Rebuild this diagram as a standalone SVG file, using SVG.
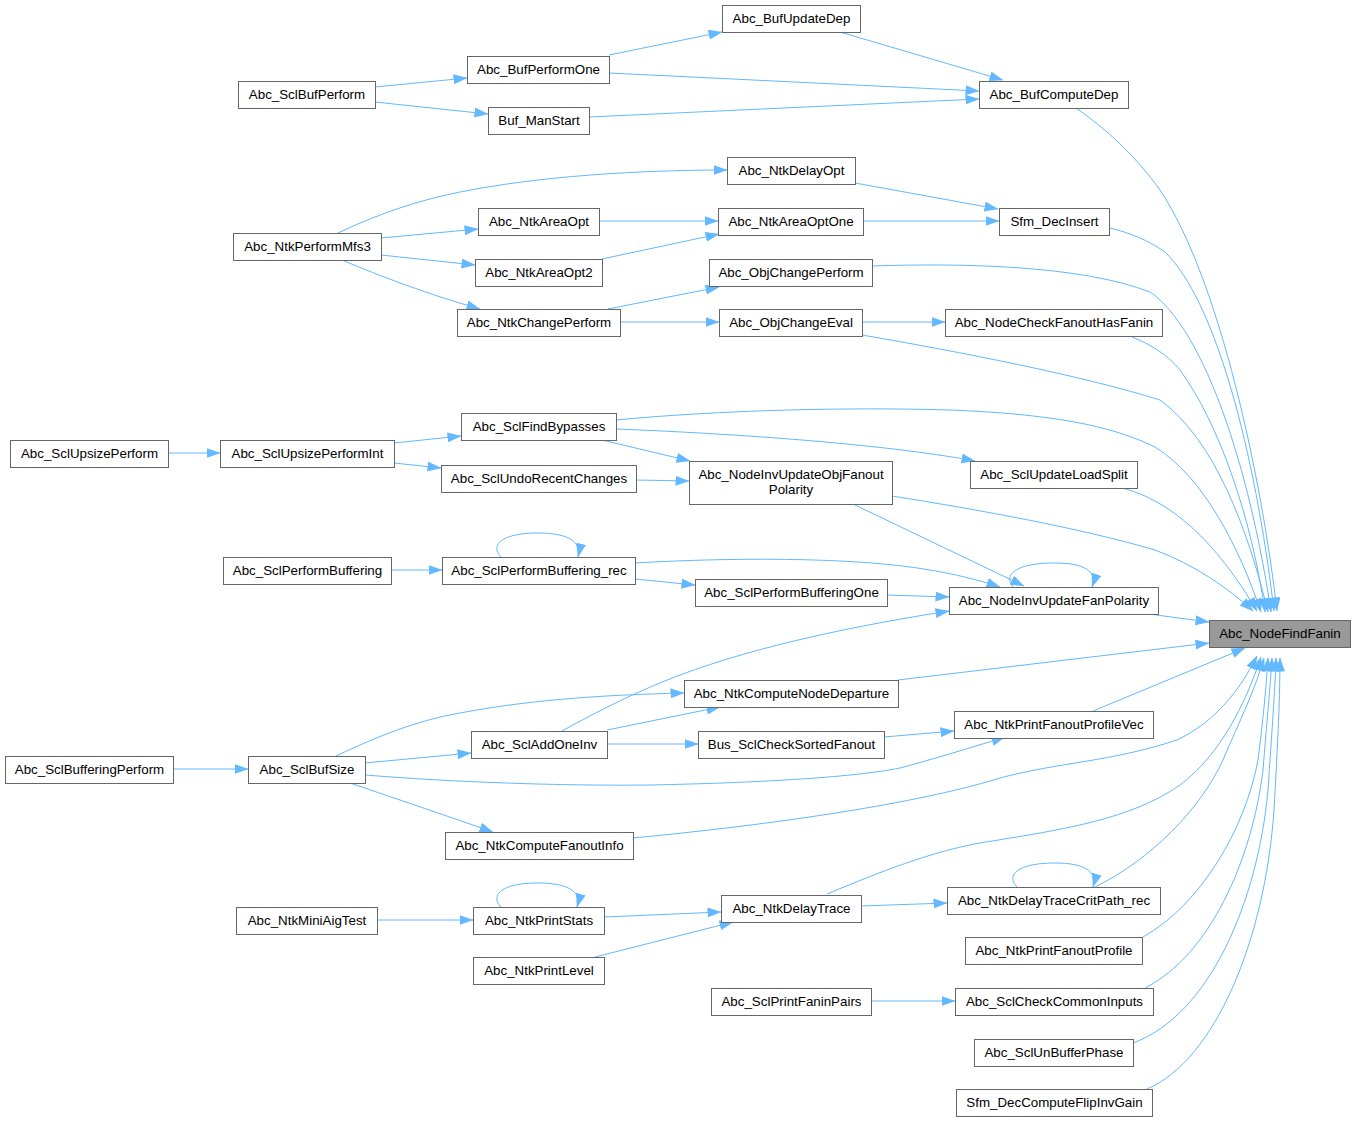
<svg xmlns="http://www.w3.org/2000/svg" width="1355" height="1121" viewBox="0 0 1355 1121">
<style>
.n rect{fill:#ffffff;stroke:#666666;stroke-width:1}
.n text{font-family:"Liberation Sans",Arial,Helvetica,sans-serif;font-size:13.33px;fill:#000000;text-anchor:middle}
#n_target rect{fill:#999999}
.e path{fill:none;stroke:#63b8ff;stroke-width:1;marker-end:url(#ah)}
</style>
<defs>
<marker id="ah" markerUnits="userSpaceOnUse" markerWidth="14" markerHeight="10" refX="13.5" refY="5" orient="auto">
<path d="M0,0 L14,5 L0,10 Z" fill="#63b8ff"/>
</marker>
</defs>
<rect x="0" y="0" width="1355" height="1121" fill="#ffffff"/>
<g id="edges" class="e">
<path d="M840,32 L1003,80"/>
<path d="M609,55 L722,32"/>
<path d="M609,73 L979,91"/>
<path d="M375,87 L467,78"/>
<path d="M375,102 L488,114"/>
<path d="M589,117 L979,99"/>
<path d="M1076,108 C1105,128 1135,155 1160,190 C1220,280 1262,480 1277,611"/>
<path d="M338,233 C380,213 420,200 460,192 C540,176 640,170 727,170"/>
<path d="M381,238 L478,229"/>
<path d="M381,255 L475,265"/>
<path d="M342,260 C380,276 430,295 480,309"/>
<path d="M855,183 L998,209"/>
<path d="M599,221 L718,221"/>
<path d="M602,259 L719,234"/>
<path d="M863,221 L999,221"/>
<path d="M1110,228 C1130,233 1148,240 1165,252 C1215,300 1255,450 1274,611"/>
<path d="M620,322 L719,322"/>
<path d="M608,309 L719,287"/>
<path d="M872,266 C960,263 1080,265 1150,292 C1205,330 1250,470 1271,612"/>
<path d="M862,322 L945,322"/>
<path d="M862,335 C960,352 1080,375 1160,400 C1215,440 1248,530 1268,612"/>
<path d="M1132,337 C1150,344 1168,355 1180,370 C1220,425 1252,520 1265,612"/>
<path d="M168,453 L220,453"/>
<path d="M394,443 L461,436"/>
<path d="M394,463 L441,468"/>
<path d="M616,420 C720,410 850,407 950,410 C1050,414 1110,425 1155,447 C1205,478 1240,550 1261,612"/>
<path d="M616,429 C720,433 880,443 975,461"/>
<path d="M602,440 L690,461"/>
<path d="M636,480 L689,481"/>
<path d="M1122,488 C1170,500 1215,540 1257,611"/>
<path d="M892,496 C980,510 1080,528 1155,550 C1195,565 1228,588 1253,611"/>
<path d="M853,504 L1024,586"/>
<path d="M391,570 L442,570"/>
<path d="M501,557 C490,546 500,533 538,533 C565,533 582,540 578,557"/>
<path d="M635,563 C720,558 850,556 930,570 C960,575 985,582 1000,587"/>
<path d="M635,579 L695,585"/>
<path d="M887,595 L949,597"/>
<path d="M1013,587 C1003,575 1015,563 1055,563 C1082,563 1098,570 1092,587"/>
<path d="M1149,614 L1209,622"/>
<path d="M562,731 C600,710 640,690 680,675 C760,645 860,625 949,611"/>
<path d="M336,756 C370,740 400,727 440,717 C520,700 600,695 684,693"/>
<path d="M365,763 L471,753"/>
<path d="M365,775 C450,782 560,786 650,785 C750,783 850,778 900,768 C930,760 970,748 1005,737"/>
<path d="M350,783 C400,800 450,817 493,832"/>
<path d="M173,769 L248,769"/>
<path d="M898,680 L1209,643"/>
<path d="M607,730 L720,707"/>
<path d="M607,744 L698,744"/>
<path d="M884,737 L954,731"/>
<path d="M1093,711 L1245,648"/>
<path d="M633,838 C800,822 930,800 1000,778 C1060,762 1110,762 1177,740 C1215,722 1240,690 1257,656"/>
<path d="M377,920 L473,920"/>
<path d="M501,907 C490,896 500,883 538,883 C565,883 582,890 577,907"/>
<path d="M604,917 L721,912"/>
<path d="M595,957 L733,922"/>
<path d="M827,894 C880,872 930,852 980,843 C1060,830 1130,820 1180,785 C1220,755 1245,705 1261,657"/>
<path d="M861,906 L947,903"/>
<path d="M1017,887 C1006,876 1016,863 1055,863 C1082,863 1098,870 1093,887"/>
<path d="M1095,887 C1150,860 1200,810 1223,760 C1240,720 1255,690 1264,658"/>
<path d="M1143,937 C1200,905 1245,830 1258,760 C1263,720 1266,690 1268,658"/>
<path d="M871,1001 L955,1001"/>
<path d="M1145,988 C1210,955 1252,860 1263,770 C1267,720 1270,690 1272,658"/>
<path d="M1133,1043 C1210,1015 1258,900 1268,790 C1272,730 1275,690 1276,658"/>
<path d="M1147,1089 C1215,1060 1265,940 1274,810 C1278,740 1280,695 1280,658"/>
</g>
<g id="n_target" class="n"><rect x="1209.5" y="620.5" width="141" height="27"/><text x="1280" y="638">Abc_NodeFindFanin</text></g>
<g id="n_BufComputeDep" class="n"><rect x="979.5" y="81.5" width="149" height="27"/><text x="1054" y="99">Abc_BufComputeDep</text></g>
<g id="n_BufUpdateDep" class="n"><rect x="722.5" y="5.5" width="138" height="27"/><text x="791.5" y="23">Abc_BufUpdateDep</text></g>
<g id="n_BufPerformOne" class="n"><rect x="467.5" y="56.5" width="142" height="27"/><text x="538.5" y="74">Abc_BufPerformOne</text></g>
<g id="n_SclBufPerform" class="n"><rect x="238.5" y="81.5" width="137" height="27"/><text x="307" y="99">Abc_SclBufPerform</text></g>
<g id="n_BufManStart" class="n"><rect x="488.5" y="107.5" width="101" height="27"/><text x="539" y="125">Buf_ManStart</text></g>
<g id="n_SfmDecInsert" class="n"><rect x="999.5" y="208.5" width="110" height="27"/><text x="1054.5" y="226">Sfm_DecInsert</text></g>
<g id="n_NtkDelayOpt" class="n"><rect x="727.5" y="157.5" width="128" height="27"/><text x="791.5" y="175">Abc_NtkDelayOpt</text></g>
<g id="n_NtkAreaOptOne" class="n"><rect x="718.5" y="208.5" width="145" height="27"/><text x="791" y="226">Abc_NtkAreaOptOne</text></g>
<g id="n_NtkAreaOpt" class="n"><rect x="478.5" y="208.5" width="121" height="27"/><text x="539" y="226">Abc_NtkAreaOpt</text></g>
<g id="n_NtkAreaOpt2" class="n"><rect x="475.5" y="259.5" width="127" height="27"/><text x="539" y="277">Abc_NtkAreaOpt2</text></g>
<g id="n_NtkPerformMfs3" class="n"><rect x="233.5" y="233.5" width="148" height="27"/><text x="307.5" y="251">Abc_NtkPerformMfs3</text></g>
<g id="n_ObjChangePerform" class="n"><rect x="709.5" y="259.5" width="163" height="27"/><text x="791" y="277">Abc_ObjChangePerform</text></g>
<g id="n_NtkChangePerform" class="n"><rect x="457.5" y="309.5" width="163" height="27"/><text x="539" y="327">Abc_NtkChangePerform</text></g>
<g id="n_ObjChangeEval" class="n"><rect x="719.5" y="309.5" width="143" height="27"/><text x="791" y="327">Abc_ObjChangeEval</text></g>
<g id="n_NodeCheckFanoutHasFanin" class="n"><rect x="945.5" y="309.5" width="217" height="27"/><text x="1054" y="327">Abc_NodeCheckFanoutHasFanin</text></g>
<g id="n_SclFindBypasses" class="n"><rect x="461.5" y="413.5" width="155" height="27"/><text x="539" y="431">Abc_SclFindBypasses</text></g>
<g id="n_SclUpsizePerformInt" class="n"><rect x="220.5" y="440.5" width="174" height="27"/><text x="307.5" y="458">Abc_SclUpsizePerformInt</text></g>
<g id="n_SclUpsizePerform" class="n"><rect x="10.5" y="440.5" width="158" height="27"/><text x="89.5" y="458">Abc_SclUpsizePerform</text></g>
<g id="n_SclUndoRecentChanges" class="n"><rect x="441.5" y="465.5" width="195" height="27"/><text x="539" y="483">Abc_SclUndoRecentChanges</text></g>
<g id="n_NodeInvUpdateObjFanoutPolarity" class="n"><rect x="689.5" y="461.5" width="203" height="43"/><text x="791" y="479">Abc_NodeInvUpdateObjFanout</text><text x="791" y="494">Polarity</text></g>
<g id="n_SclUpdateLoadSplit" class="n"><rect x="970.5" y="461.5" width="167" height="27"/><text x="1054" y="479">Abc_SclUpdateLoadSplit</text></g>
<g id="n_SclPerformBuffering" class="n"><rect x="223.5" y="557.5" width="168" height="27"/><text x="307.5" y="575">Abc_SclPerformBuffering</text></g>
<g id="n_SclPerformBuffering_rec" class="n"><rect x="442.5" y="557.5" width="193" height="27"/><text x="539" y="575">Abc_SclPerformBuffering_rec</text></g>
<g id="n_SclPerformBufferingOne" class="n"><rect x="695.5" y="579.5" width="192" height="27"/><text x="791.5" y="597">Abc_SclPerformBufferingOne</text></g>
<g id="n_NodeInvUpdateFanPolarity" class="n"><rect x="949.5" y="587.5" width="209" height="27"/><text x="1054" y="605">Abc_NodeInvUpdateFanPolarity</text></g>
<g id="n_NtkComputeNodeDeparture" class="n"><rect x="684.5" y="680.5" width="214" height="27"/><text x="791.5" y="698">Abc_NtkComputeNodeDeparture</text></g>
<g id="n_NtkPrintFanoutProfileVec" class="n"><rect x="954.5" y="711.5" width="199" height="27"/><text x="1054" y="729">Abc_NtkPrintFanoutProfileVec</text></g>
<g id="n_SclAddOneInv" class="n"><rect x="471.5" y="731.5" width="136" height="27"/><text x="539.5" y="749">Abc_SclAddOneInv</text></g>
<g id="n_BusSclCheckSortedFanout" class="n"><rect x="698.5" y="731.5" width="186" height="27"/><text x="791.5" y="749">Bus_SclCheckSortedFanout</text></g>
<g id="n_SclBufferingPerform" class="n"><rect x="5.5" y="756.5" width="168" height="27"/><text x="89.5" y="774">Abc_SclBufferingPerform</text></g>
<g id="n_SclBufSize" class="n"><rect x="248.5" y="756.5" width="117" height="27"/><text x="307" y="774">Abc_SclBufSize</text></g>
<g id="n_NtkComputeFanoutInfo" class="n"><rect x="445.5" y="832.5" width="188" height="27"/><text x="539.5" y="850">Abc_NtkComputeFanoutInfo</text></g>
<g id="n_NtkMiniAigTest" class="n"><rect x="236.5" y="907.5" width="141" height="27"/><text x="307" y="925">Abc_NtkMiniAigTest</text></g>
<g id="n_NtkPrintStats" class="n"><rect x="473.5" y="907.5" width="131" height="27"/><text x="539" y="925">Abc_NtkPrintStats</text></g>
<g id="n_NtkPrintLevel" class="n"><rect x="473.5" y="957.5" width="131" height="27"/><text x="539" y="975">Abc_NtkPrintLevel</text></g>
<g id="n_NtkDelayTrace" class="n"><rect x="721.5" y="895.5" width="140" height="27"/><text x="791.5" y="913">Abc_NtkDelayTrace</text></g>
<g id="n_NtkDelayTraceCritPath_rec" class="n"><rect x="947.5" y="887.5" width="213" height="27"/><text x="1054" y="905">Abc_NtkDelayTraceCritPath_rec</text></g>
<g id="n_NtkPrintFanoutProfile" class="n"><rect x="965.5" y="937.5" width="177" height="27"/><text x="1054" y="955">Abc_NtkPrintFanoutProfile</text></g>
<g id="n_SclPrintFaninPairs" class="n"><rect x="711.5" y="988.5" width="160" height="27"/><text x="791.5" y="1006">Abc_SclPrintFaninPairs</text></g>
<g id="n_SclCheckCommonInputs" class="n"><rect x="955.5" y="988.5" width="198" height="27"/><text x="1054.5" y="1006">Abc_SclCheckCommonInputs</text></g>
<g id="n_SclUnBufferPhase" class="n"><rect x="974.5" y="1039.5" width="159" height="27"/><text x="1054" y="1057">Abc_SclUnBufferPhase</text></g>
<g id="n_SfmDecComputeFlipInvGain" class="n"><rect x="956.5" y="1089.5" width="196" height="27"/><text x="1054.5" y="1107">Sfm_DecComputeFlipInvGain</text></g>
</svg>
